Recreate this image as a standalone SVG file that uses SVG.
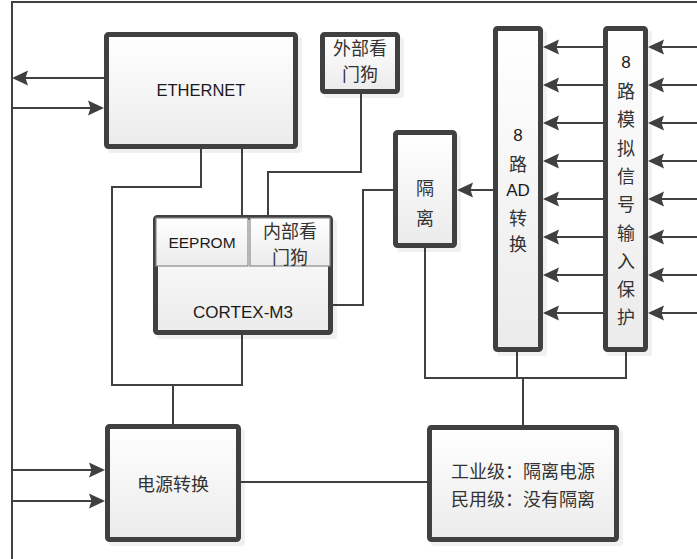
<svg xmlns="http://www.w3.org/2000/svg" width="697" height="559" viewBox="0 0 697 559">
<style>
.box{fill:url(#g);stroke:#404040;stroke-width:5}
.sh{fill:#000;opacity:0.06}
.inner{fill:url(#g);stroke:#8a8a8a;stroke-width:1.2}
.ln{fill:none;stroke:#404040;stroke-width:2}
.ar{fill:none;stroke:#404040;stroke-width:2;marker-end:url(#ah)}
.lt{font-family:"Liberation Sans","Open Sans",sans-serif;font-size:16.5px;fill:#1a1a1a;text-anchor:middle;dominant-baseline:central}
.cj{font-family:"Noto Sans CJK SC","Liberation Sans",sans-serif;font-size:18px;fill:#333;text-anchor:middle;dominant-baseline:central}
</style>
<defs>
<linearGradient id="g" x1="0" y1="0" x2="0" y2="1">
<stop offset="0" stop-color="#ffffff"/>
<stop offset="1" stop-color="#ebebeb"/>
</linearGradient>
<marker id="ah" viewBox="0 -8 16 16" refX="14" refY="0" markerWidth="16" markerHeight="16" markerUnits="userSpaceOnUse" orient="auto">
<path d="M16,0 L0,-7.5 L2.5,0 L0,7.5 Z" fill="#404040"/>
</marker>
</defs>
<rect width="697" height="559" fill="#fff"/>
<g id="connectors">
<path class="ln" d="M12,559 V2 H697"/>
<path class="ar" d="M104,78 H14"/>
<path class="ar" d="M12,108 H102"/>
<path class="ln" d="M201,149 V187 H112 V385 H242 V335"/>
<path class="ln" d="M242,149 V216"/>
<path class="ln" d="M361,94 V172 H268 V219"/>
<path class="ln" d="M333,305 H363 V190 H393"/>
<path class="ar" d="M493,190 H459"/>
<path class="ar" d="M603,47 H545"/>
<path class="ar" d="M603,85 H545"/>
<path class="ar" d="M603,123 H545"/>
<path class="ar" d="M603,161 H545"/>
<path class="ar" d="M603,199 H545"/>
<path class="ar" d="M603,237 H545"/>
<path class="ar" d="M603,275 H545"/>
<path class="ar" d="M603,313 H545"/>
<path class="ar" d="M697,47 H650"/>
<path class="ar" d="M697,85 H650"/>
<path class="ar" d="M697,123 H650"/>
<path class="ar" d="M697,161 H650"/>
<path class="ar" d="M697,199 H650"/>
<path class="ar" d="M697,237 H650"/>
<path class="ar" d="M697,275 H650"/>
<path class="ar" d="M697,313 H650"/>
<path class="ln" d="M425,248 V378 H626 V352"/>
<path class="ln" d="M517,352 V378"/>
<path class="ln" d="M523,378 V425"/>
<path class="ln" d="M173,385 V424"/>
<path class="ar" d="M12,470 H103"/>
<path class="ar" d="M12,501 H103"/>
<path class="ln" d="M241,482 H427"/>
</g>
<g id="ethernet">
<rect class="sh" x="108" y="37" width="194" height="116" rx="3"/>
<rect class="box" x="106.5" y="34.5" width="189" height="112" rx="2"/>
<text class="lt" x="201" y="90">ETHERNET</text>
</g>
<g id="ext-watchdog">
<rect class="sh" x="324" y="37" width="80" height="61" rx="3"/>
<rect class="box" x="322.5" y="34.5" width="75" height="57" rx="2"/>
<text class="cj" x="360" y="47">外部看</text>
<text class="cj" x="360" y="73">门狗</text>
</g>
<g id="isolation">
<rect class="sh" x="397" y="135" width="64" height="117" rx="3"/>
<rect class="box" x="395.5" y="132.5" width="59" height="113" rx="2"/>
<text class="cj" x="425" y="187">隔</text>
<text class="cj" x="425" y="217">离</text>
</g>
<g id="ad">
<rect class="sh" x="497" y="31" width="50" height="325" rx="3"/>
<rect class="box" x="495.5" y="28.5" width="45" height="321" rx="2"/>
<text class="lt" x="518" y="135" style="font-size:17px">8</text>
<text class="cj" x="518" y="163">路</text>
<text class="lt" x="518" y="190" style="font-size:17px">AD</text>
<text class="cj" x="518" y="217">转</text>
<text class="cj" x="518" y="243">换</text>
</g>
<g id="protection">
<rect class="sh" x="607" y="31" width="45" height="325" rx="3"/>
<rect class="box" x="605.5" y="28.5" width="40" height="321" rx="2"/>
<text class="lt" x="626" y="62" style="font-size:17px">8</text>
<text class="cj" x="626" y="90">路</text>
<text class="cj" x="626" y="118">模</text>
<text class="cj" x="626" y="147">拟</text>
<text class="cj" x="626" y="175">信</text>
<text class="cj" x="626" y="203">号</text>
<text class="cj" x="626" y="232">输</text>
<text class="cj" x="626" y="260">入</text>
<text class="cj" x="626" y="288">保</text>
<text class="cj" x="626" y="316">护</text>
</g>
<g id="cortex">
<rect class="sh" x="157" y="220" width="180" height="119" rx="3"/>
<rect class="box" x="155.5" y="217.5" width="175" height="115" rx="2"/>
<text class="lt" x="243" y="312" style="font-size:17px">CORTEX-M3</text>
</g>
<g id="eeprom">
<rect class="inner" x="156" y="218" width="92" height="48"/>
<text class="lt" x="202" y="242" style="font-size:15.5px">EEPROM</text>
</g>
<g id="int-watchdog">
<rect class="inner" x="250" y="218" width="80" height="48"/>
<text class="cj" x="290" y="230">内部看</text>
<text class="cj" x="290" y="256">门狗</text>
</g>
<g id="power">
<rect class="sh" x="109" y="429" width="136" height="117" rx="3"/>
<rect class="box" x="107.5" y="426.5" width="131" height="113" rx="2"/>
<text class="cj" x="173" y="483">电源转换</text>
</g>
<g id="power-iso">
<rect class="sh" x="431" y="430" width="192" height="116" rx="3"/>
<rect class="box" x="429.5" y="427.5" width="187" height="112" rx="2"/>
<text class="cj" x="523" y="470">工业级：隔离电源</text>
<text class="cj" x="523" y="498">民用级：没有隔离</text>
</g>
</svg>
